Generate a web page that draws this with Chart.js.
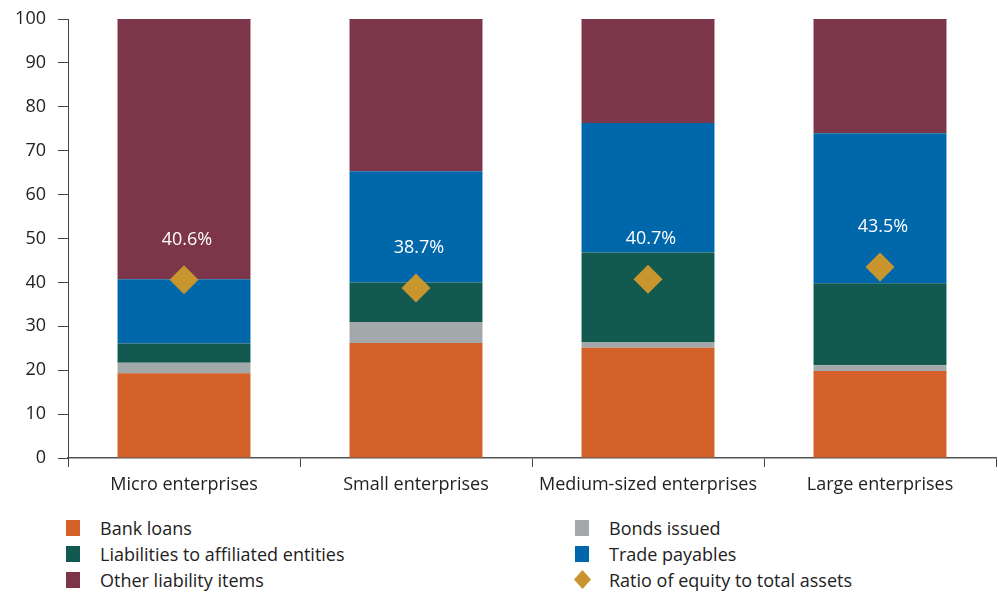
<!DOCTYPE html>
<html>
<head>
<meta charset="utf-8">
<script src="https://cdn.jsdelivr.net/npm/chart.js@4.4.1/dist/chart.umd.min.js"></script>
<style>
  html, body { margin: 0; padding: 0; background: #fff; overflow: hidden; font-family: "Open Sans", sans-serif; }
  #wrap { position: relative; width: 998px; height: 592px; overflow: hidden; }
  #liabChart { position: absolute; left: 0; top: 0; }
  .lg { position: absolute; font-size: 18px; color: #222; line-height: 20px; }
  .lg .sw { position: absolute; left: 0; top: 2px; width: 14px; height: 16px; }
  .lg .dia { position: absolute; left: -1px; top: 0px; width: 17px; height: 19px;
             clip-path: polygon(50% 0, 100% 50%, 50% 100%, 0 50%); }
  .lg span.t { position: absolute; left: 34px; top: 0; white-space: nowrap; }
</style>
</head>
<body>
<div id="wrap">
  <canvas id="liabChart" width="998" height="500"></canvas>
  <div id="legend"></div>
</div>
<script>
// chart data
const categories = ['Micro enterprises', 'Small enterprises', 'Medium-sized enterprises', 'Large enterprises'];
const bankLoans = [19.3, 26.2, 25.1, 19.8];
const bondsIssued = [2.4, 4.8, 1.2, 1.3];
const affiliatedLiabilities = [4.4, 9.0, 20.5, 18.7];
const tradePayables = [14.6, 25.3, 29.5, 34.2];
const otherLiabilities = [59.3, 34.7, 23.7, 26.0];
const equityRatio = [40.6, 38.7, 40.7, 43.5];
const yTicks = [0, 10, 20, 30, 40, 50, 60, 70, 80, 90, 100];

const colors = {
  bank: '#d4612a',
  bonds: '#a3a9ab',
  affiliated: '#12594f',
  trade: '#0068aa',
  other: '#7d3649',
  ratio: '#c9952f'
};

Chart.defaults.font.family = '"Open Sans", sans-serif';
Chart.defaults.color = '#222';

function barSet(label, data, color) {
  return {
    type: 'bar',
    label: label,
    data: data,
    backgroundColor: color,
    borderWidth: 0,
    categoryPercentage: 1,
    barPercentage: 0.573,
    stack: 'liab',
    order: 1
  };
}

// white % labels above the diamonds
const ratioLabels = {
  id: 'ratioLabels',
  afterDatasetsDraw(chart) {
    const meta = chart.getDatasetMeta(5);
    const c = chart.ctx;
    c.save();
    c.fillStyle = '#ffffff';
    c.font = '18px "Open Sans", sans-serif';
    c.textAlign = 'center';
    c.textBaseline = 'middle';
    meta.data.forEach((pt, i) => {
      c.fillText(equityRatio[i].toFixed(1) + '%', pt.x + 3, pt.y - 40);
    });
    c.restore();
  }
};

const ctx = document.getElementById('liabChart').getContext('2d');
const liabChart = new Chart(ctx, {
  data: {
    labels: categories,
    datasets: [
      barSet('Bank loans', bankLoans, colors.bank),
      barSet('Bonds issued', bondsIssued, colors.bonds),
      barSet('Liabilities to affiliated entities', affiliatedLiabilities, colors.affiliated),
      barSet('Trade payables', tradePayables, colors.trade),
      barSet('Other liability items', otherLiabilities, colors.other),
      {
        type: 'line',
        label: 'Ratio of equity to total assets',
        data: equityRatio,
        showLine: false,
        stack: 'ratio',
        pointStyle: 'rectRot',
        pointRadius: 14.5,
        pointHoverRadius: 14.5,
        pointBackgroundColor: colors.ratio,
        pointBorderWidth: 0,
        order: 0
      }
    ]
  },
  options: {
    responsive: false,
    animation: false,
    layout: { autoPadding: false, padding: { top: 19, right: 2, left: 0, bottom: 0 } },
    plugins: {
      legend: { display: false },
      tooltip: { enabled: false }
    },
    scales: {
      x: {
        stacked: true,
        offset: true,
        grid: {
          offset: true,
          drawOnChartArea: false,
          drawTicks: true,
          tickLength: 9,
          color: '#444'
        },
        border: { color: '#555', width: 1.5 },
        ticks: { font: { size: 18 }, padding: 7, color: '#222', maxRotation: 0 },
        afterFit(scale) {
          scale.height = 42;
          scale.paddingLeft = 0;
          scale.paddingRight = 0;
        }
      },
      y: {
        stacked: true,
        min: 0,
        max: 100,
        grid: {
          drawOnChartArea: false,
          drawTicks: true,
          tickLength: 10,
          color: '#444'
        },
        border: { color: '#444', width: 1 },
        afterBuildTicks(scale) { scale.ticks = yTicks.map(v => ({ value: v })); },
        ticks: { font: { size: 18 }, padding: 12, color: '#222' },
        afterFit(scale) {
          scale.width = 68;
          scale.paddingTop = 8;
          scale.paddingBottom = 8;
        }
      }
    }
  },
  plugins: [ratioLabels]
});

// legend, two columns like the original
const legendItems = [
  { text: 'Bank loans', color: colors.bank, x: 66, y: 518 },
  { text: 'Bonds issued', color: colors.bonds, x: 575, y: 518 },
  { text: 'Liabilities to affiliated entities', color: colors.affiliated, x: 66, y: 544 },
  { text: 'Trade payables', color: colors.trade, x: 575, y: 544 },
  { text: 'Other liability items', color: colors.other, x: 66, y: 570 },
  { text: 'Ratio of equity to total assets', color: colors.ratio, x: 575, y: 570, diamond: true }
];
const legendEl = document.getElementById('legend');
legendItems.forEach(item => {
  const div = document.createElement('div');
  div.className = 'lg';
  div.style.left = item.x + 'px';
  div.style.top = item.y + 'px';
  const mark = document.createElement('div');
  mark.className = item.diamond ? 'dia' : 'sw';
  mark.style.background = item.color;
  const t = document.createElement('span');
  t.className = 't';
  t.textContent = item.text;
  div.appendChild(mark);
  div.appendChild(t);
  legendEl.appendChild(div);
});
</script>
</body>
</html>
